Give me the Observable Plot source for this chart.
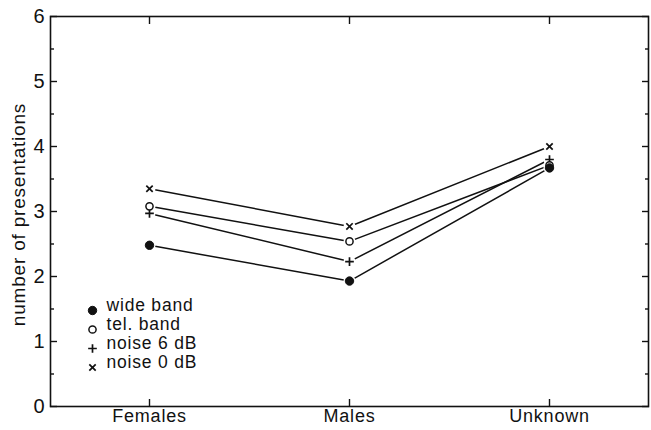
<!DOCTYPE html>
<html><head><meta charset="utf-8">
<script src="https://cdn.jsdelivr.net/npm/d3@7"></script>
<script src="https://cdn.jsdelivr.net/npm/@observablehq/plot@0.6"></script>
<style>html,body{margin:0;padding:0;background:#fff}</style>
</head><body><div id="chart"></div>
<script>
const categories = ["Females", "Males", "Unknown"];
const seriesNames = ["wide band", "tel. band", "noise 6 dB", "noise 0 dB"];
const wideBand = [2.48, 1.93, 3.67];
const telBand = [3.08, 2.54, 3.71];
const noise6dB = [2.97, 2.23, 3.80];
const noise0dB = [3.35, 2.77, 4.00];
const yTicks = [0, 1, 2, 3, 4, 5, 6];
const yMinorTicks = [0.5, 1.5, 2.5, 3.5, 4.5, 5.5];
const yTitle = "number of presentations";

const seriesValues = [wideBand, telBand, noise6dB, noise0dB];
const rows = seriesNames.flatMap((s, i) => categories.map((c, j) => ({series: s, cat: c, value: seriesValues[i][j]})));

const ink = "#111";
const markerStyle = [
  {symbol: "circle", r: 4.2, fill: ink, stroke: ink, strokeWidth: 1},
  {symbol: "circle", r: 3.6, fill: "white", stroke: ink, strokeWidth: 1.5},
  {symbol: "plus", r: 2.9, fill: "none", stroke: ink, strokeWidth: 1.7},
  {symbol: "times", r: 3, fill: "none", stroke: ink, strokeWidth: 1.7}
];
const drawOrder = [3, 2, 1, 0];

const font = "'Liberation Sans', Arial, Helvetica, sans-serif";
const blank = () => "";

const legendMarks = [];
seriesNames.forEach((name, i) => {
  const dy = -96 + i * 19;
  legendMarks.push(Plot.dot([name], {frameAnchor: "bottom-left", dx: 42, dy, ...markerStyle[i]}));
  legendMarks.push(Plot.text([name], {frameAnchor: "bottom-left", dx: 56, dy, textAnchor: "start", fill: ink, fontSize: 17.5, letterSpacing: "1px"}));
});

const chart = Plot.plot({
  width: 651, height: 430,
  marginLeft: 50, marginRight: 3, marginTop: 16, marginBottom: 24,
  style: {fontFamily: font, fontSize: "18px", color: ink, background: "#fff", letterSpacing: "0.8px"},
  x: {type: "point", domain: categories, padding: 0.49},
  y: {domain: [0, 6]},
  marks: [
    Plot.frame({stroke: ink, strokeWidth: 1.6}),
    Plot.axisY({ticks: yTicks, tickSize: -7, tickPadding: 12, tickFormat: d => String(d), label: null, strokeWidth: 1.4, fontSize: 20}),
    Plot.axisY({ticks: yMinorTicks, tickSize: -4, tickFormat: blank, label: null, strokeWidth: 1.4}),
    Plot.axisY({anchor: "right", ticks: yTicks, tickSize: -7, tickFormat: blank, label: null, strokeWidth: 1.4}),
    Plot.axisY({anchor: "right", ticks: yMinorTicks, tickSize: -4, tickFormat: blank, label: null, strokeWidth: 1.4}),
    Plot.axisX({tickSize: -7, tickPadding: 10, label: null, strokeWidth: 1.4}),
    Plot.axisX({anchor: "top", tickSize: -7, tickFormat: blank, label: null, strokeWidth: 1.4}),
    Plot.text([yTitle], {frameAnchor: "left", rotate: -90, dx: -32, dy: 3, textAnchor: "middle", fill: ink, fontSize: 19, letterSpacing: "1.2px"}),
    Plot.line(rows, {x: "cat", y: "value", z: "series", stroke: ink, strokeWidth: 1.5}),
    Plot.dot(rows, {x: "cat", y: "value", r: 6, fill: "white", stroke: "none"}),
    ...drawOrder.map(i => Plot.dot(rows.filter(d => d.series === seriesNames[i]), {x: "cat", y: "value", ...markerStyle[i]})),
    ...legendMarks
  ]
});
document.getElementById("chart").appendChild(chart);
</script>
</body></html>
